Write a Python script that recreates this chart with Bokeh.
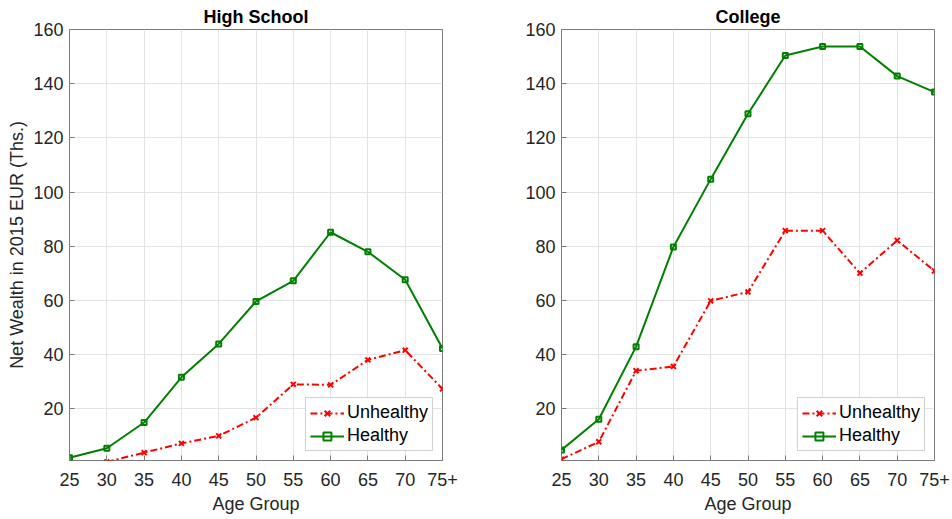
from bokeh.plotting import figure
from bokeh.layouts import row
from bokeh.models import Range1d, FixedTicker, Legend, LegendItem, ColumnDataSource
from bokeh.embed import file_html
from bokeh.resources import INLINE
import numpy as np

age_groups = ["25", "30", "35", "40", "45", "50", "55", "60", "65", "70", "75+"]

hs_unhealthy = [np.nan, 0.5, 3.9, 7.3, 10.1, 16.8, 29.1, 28.9, 38.1, 41.7, 27.4]
hs_healthy = [2.0, 5.5, 15.0, 31.7, 44.0, 59.7, 67.3, 85.2, 78.0, 67.7, 42.3]

col_unhealthy = [1.5, 7.9, 34.1, 35.7, 59.9, 63.2, 85.8, 85.8, 70.1, 82.2, 70.9]
col_healthy = [4.9, 16.2, 43.0, 79.8, 104.8, 128.9, 150.4, 153.7, 153.7, 142.8, 136.9]

y_ticks = [20, 40, 60, 80, 100, 120, 140, 160]

FONT = "Liberation Sans"
TXT = "#262626"
RED = "#ff0000"
GREEN = "#008000"


def make_panel(title, unhealthy, healthy, width, border_left, border_right, ylabel):
    x = list(range(len(age_groups)))
    p = figure(width=width, height=519, output_backend="svg", toolbar_location=None,
               x_range=Range1d(0, len(age_groups) - 1), y_range=Range1d(1, 160),
               min_border_left=border_left, min_border_right=border_right,
               min_border_top=29, min_border_bottom=59)
    p.title.text = title
    p.title.align = "center"
    p.title.text_font = FONT
    p.title.text_font_size = "18px"
    p.title.text_font_style = "bold"
    p.title.text_color = "#000000"
    p.title.standoff = 6
    p.title.offset = 0
    p.outline_line_color = "#7a7a7a"
    p.outline_line_width = 1
    p.background_fill_color = "white"
    p.border_fill_color = "white"

    xt = FixedTicker(ticks=x)
    yt = FixedTicker(ticks=y_ticks)
    overrides = {i: lab for i, lab in enumerate(age_groups)}

    p.xaxis.ticker = xt
    p.xaxis.major_label_overrides = overrides
    p.yaxis.ticker = yt
    for ax in (p.xaxis[0], p.yaxis[0]):
        ax.major_label_text_font = FONT
        ax.major_label_text_font_size = "18px"
        ax.major_label_text_color = TXT
        ax.axis_label_text_font = FONT
        ax.axis_label_text_font_size = "18px"
        ax.axis_label_text_font_style = "normal"
        ax.axis_label_text_color = TXT
        ax.axis_line_color = None
        ax.major_tick_in = 5
        ax.major_tick_out = 0
        ax.major_tick_line_color = "#7a7a7a"
        ax.minor_tick_line_color = None
    p.xaxis.major_label_standoff = 12
    p.xaxis.axis_label = "Age Group"
    p.xaxis.axis_label_standoff = 5
    p.yaxis.major_label_standoff = 6
    if ylabel:
        p.yaxis.axis_label = ylabel
        p.yaxis.axis_label_standoff = 3

    p.xgrid.ticker = xt
    p.ygrid.ticker = yt
    p.xgrid.grid_line_color = "#e3e3e3"
    p.ygrid.grid_line_color = "#e3e3e3"

    src = ColumnDataSource(dict(x=x, u=unhealthy, h=healthy))
    ul = p.line("x", "u", source=src, line_color=RED, line_width=2, line_dash="7 3 2 3")
    um = p.scatter("x", "u", source=src, marker="x", size=7, line_color=RED, line_width=2)
    hl = p.line("x", "h", source=src, line_color=GREEN, line_width=2)
    hm = p.scatter("x", "h", source=src, marker="square", size=5, line_color=GREEN,
                   line_width=2, fill_alpha=0)

    legend = Legend(items=[LegendItem(label="Unhealthy", renderers=[ul, um]),
                           LegendItem(label="Healthy", renderers=[hl, hm])],
                    location="bottom_right")
    legend.label_text_font = FONT
    legend.label_text_font_size = "18px"
    legend.label_text_color = "#000000"
    legend.glyph_width = 34
    legend.glyph_height = 20
    legend.label_height = 20
    legend.label_standoff = 3
    legend.padding = 4
    legend.spacing = 2
    legend.margin = 9
    legend.border_line_color = "#a0a0a0"
    legend.border_line_width = 1
    legend.background_fill_color = "white"
    legend.background_fill_alpha = 1
    p.add_layout(legend)
    return p


p1 = make_panel("High School", hs_unhealthy, hs_healthy, 476, 69, 34, "Net Wealth in 2015 EUR (Ths.)")
p2 = make_panel("College", col_unhealthy, col_healthy, 476, 85, 18, None)

layout = row(p1, p2, spacing=0)
open("out.html", "w").write(file_html(layout, INLINE))
